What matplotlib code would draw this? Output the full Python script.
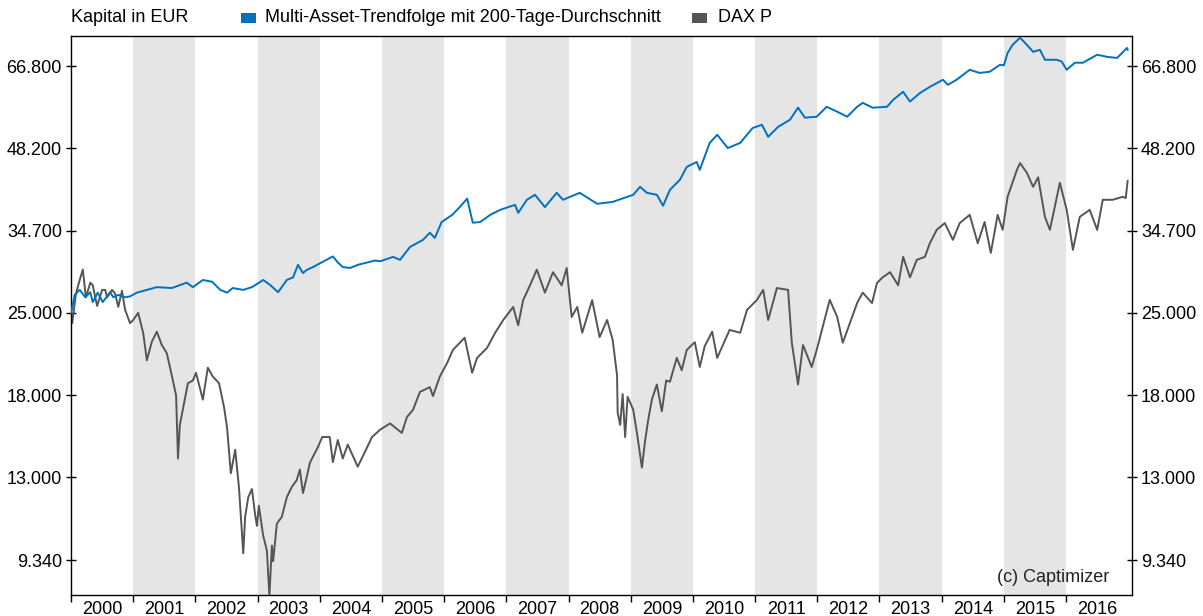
import matplotlib
matplotlib.use("Agg")
import matplotlib.pyplot as plt
from matplotlib.ticker import FixedLocator, FuncFormatter, NullLocator
from matplotlib.patches import Rectangle

dax_years = [2000.00, 2000.02, 2000.08, 2000.14, 2000.19, 2000.24, 2000.31, 2000.35, 2000.42, 2000.50,
             2000.55, 2000.58, 2000.66, 2000.71, 2000.76, 2000.82, 2000.87, 2000.95, 2001.00, 2001.08,
             2001.16, 2001.22, 2001.30, 2001.38, 2001.46, 2001.54, 2001.62, 2001.69, 2001.72, 2001.75,
             2001.82, 2001.88, 2001.96, 2002.01, 2002.12, 2002.20, 2002.28, 2002.38, 2002.46, 2002.51,
             2002.57, 2002.64, 2002.70, 2002.77, 2002.80, 2002.85, 2002.91, 2002.96, 2002.99, 2003.02,
             2003.09, 2003.15, 2003.19, 2003.23, 2003.25, 2003.31, 2003.39, 2003.47, 2003.55, 2003.63,
             2003.68, 2003.73, 2003.79, 2003.84, 2003.89, 2003.97, 2004.04, 2004.16, 2004.21, 2004.29,
             2004.37, 2004.45, 2004.61, 2004.73, 2004.84, 2004.97, 2005.13, 2005.32, 2005.40, 2005.50,
             2005.61, 2005.77, 2005.82, 2005.93, 2006.05, 2006.14, 2006.33, 2006.45, 2006.53, 2006.69,
             2006.82, 2006.95, 2007.11, 2007.19, 2007.27, 2007.38, 2007.49, 2007.62, 2007.75, 2007.89,
             2007.97, 2008.05, 2008.14, 2008.22, 2008.38, 2008.50, 2008.62, 2008.71, 2008.78, 2008.79,
             2008.83, 2008.87, 2008.91, 2008.95, 2009.04, 2009.10, 2009.18, 2009.23, 2009.28, 2009.34,
             2009.42, 2009.50, 2009.57, 2009.63, 2009.74, 2009.82, 2009.90, 2010.03, 2010.11, 2010.19,
             2010.31, 2010.39, 2010.59, 2010.76, 2010.87, 2011.03, 2011.13, 2011.21, 2011.35, 2011.53,
             2011.59, 2011.69, 2011.77, 2011.91, 2011.99, 2012.20, 2012.32, 2012.41, 2012.64, 2012.73,
             2012.88, 2012.96, 2013.05, 2013.17, 2013.30, 2013.38, 2013.49, 2013.60, 2013.73, 2013.81,
             2013.92, 2014.05, 2014.18, 2014.29, 2014.45, 2014.58, 2014.69, 2014.79, 2014.90, 2014.98,
             2015.06, 2015.21, 2015.26, 2015.37, 2015.47, 2015.55, 2015.66, 2015.74, 2015.90, 2016.01,
             2016.11, 2016.22, 2016.38, 2016.50, 2016.59, 2016.75, 2016.91, 2016.96, 2016.99]
dax_values = [25000, 24000, 27000, 28500, 29700, 26600, 28200, 27900, 25700, 27400,
              27400, 26600, 27400, 27000, 25600, 27300, 25300, 24000, 24300, 25000,
              23100, 20700, 22300, 23200, 22000, 21300, 19500, 18000, 14000, 16000,
              17500, 18900, 19100, 19700, 17700, 20100, 19400, 18900, 17200, 15800,
              13200, 14500, 12500, 9600, 11100, 12000, 12400, 11200, 10700, 11600,
              10300, 9700, 8100, 9900, 9300, 10800, 11100, 12000, 12500, 12850,
              13400, 12200, 13000, 13750, 14100, 14650, 15250, 15250, 13800, 15070,
              14000, 14800, 13550, 14400, 15250, 15700, 16100, 15500, 16500, 17000,
              18250, 18600, 17950, 19400, 20500, 21570, 22650, 19700, 20900, 21750,
              23100, 24300, 25600, 23800, 26300, 27900, 29700, 27100, 29400, 27900,
              29900, 24600, 25600, 23100, 26300, 22700, 24300, 22450, 19500, 16800,
              16000, 18100, 15250, 17900, 17000, 15500, 13500, 15000, 16300, 17700,
              18800, 16900, 19100, 19000, 20900, 19900, 21570, 22250, 20160, 21900,
              23200, 20900, 23360, 23100, 25300, 26330, 27400, 24300, 27600, 27400,
              22200, 18800, 22000, 20160, 21570, 26330, 24600, 22200, 26000, 27100,
              26000, 28170, 28800, 29400, 27900, 31250, 28800, 30880, 31250, 33000,
              34800, 35750, 33440, 35750, 36940, 33000, 35900, 31750, 36940, 34800,
              39700, 44190, 45400, 43660, 41300, 42900, 36640, 34800, 41960, 37680,
              32130, 36640, 37680, 34800, 39220, 39220, 39700, 39500, 42300]

mat_years = [2000.00, 2000.06, 2000.14, 2000.23, 2000.31, 2000.35, 2000.43, 2000.51, 2000.63, 2000.68,
             2000.76, 2000.87, 2000.95, 2001.06, 2001.22, 2001.38, 2001.62, 2001.86, 2001.96, 2002.12,
             2002.27, 2002.40, 2002.51, 2002.60, 2002.77, 2002.91, 2003.09, 2003.20, 2003.33, 2003.47,
             2003.57, 2003.65, 2003.73, 2003.79, 2003.89, 2004.05, 2004.21, 2004.29, 2004.37, 2004.49,
             2004.61, 2004.89, 2004.97, 2005.18, 2005.29, 2005.45, 2005.66, 2005.77, 2005.85, 2005.96,
             2006.13, 2006.25, 2006.37, 2006.46, 2006.58, 2006.74, 2006.90, 2007.14, 2007.19, 2007.33,
             2007.46, 2007.62, 2007.81, 2007.91, 2008.18, 2008.46, 2008.71, 2009.04, 2009.15, 2009.26,
             2009.42, 2009.52, 2009.63, 2009.79, 2009.90, 2010.06, 2010.11, 2010.27, 2010.39, 2010.56,
             2010.76, 2010.96, 2011.11, 2011.21, 2011.37, 2011.56, 2011.69, 2011.80, 2011.99, 2012.15,
             2012.32, 2012.48, 2012.64, 2012.73, 2012.89, 2013.12, 2013.22, 2013.38, 2013.49, 2013.65,
             2013.81, 2014.02, 2014.10, 2014.24, 2014.45, 2014.61, 2014.77, 2014.94, 2015.00, 2015.06,
             2015.14, 2015.26, 2015.37, 2015.47, 2015.58, 2015.66, 2015.85, 2015.93, 2016.01, 2016.14,
             2016.27, 2016.50, 2016.66, 2016.82, 2016.98, 2016.99]
mat_values = [25000, 26860, 27400, 26600, 27150, 26100, 27100, 26100, 27150, 26600,
              26860, 26600, 26700, 27100, 27400, 27700, 27600, 28200, 27700, 28500,
              28300, 27400, 27100, 27600, 27400, 27700, 28500, 27950, 27150, 28500,
              28800, 30270, 29300, 29670, 30000, 30650, 31300, 30570, 30000, 29900,
              30270, 30800, 30700, 31250, 30880, 32500, 33440, 34400, 33700, 35900,
              36940, 38100, 39400, 35800, 35900, 36940, 37680, 38440, 37230, 39220,
              40010, 38100, 40330, 39220, 40330, 38600, 38900, 40010, 41300, 40330,
              40010, 38300, 40810, 42470, 44700, 45600, 44190, 49200, 50810, 48200,
              49200, 52200, 52870, 50400, 52450, 53940, 56600, 54400, 54600, 56800,
              55700, 54600, 56800, 57700, 56600, 56800, 58410, 60300, 58000, 60000,
              61500, 63260, 62010, 63260, 65820, 65000, 65300, 67150, 67000, 70400,
              72700, 74800, 72700, 70700, 71280, 68500, 68500, 68000, 65820, 67700,
              67700, 69880, 69300, 69000, 71800, 71280]

y_ticks = [9340, 13000, 18000, 25000, 34700, 48200, 66800]
years = list(range(2000, 2017))

BLUE = "#0070c0"
GREY = "#555555"
FS = 13

plt.rcParams['font.family'] = ['Liberation Sans', 'DejaVu Sans']
plt.rcParams['font.size'] = FS

W, H = 1203, 616
fig = plt.figure(figsize=(W / 100, H / 100), dpi=100)
ax = fig.add_axes([71 / W, 21 / H, (1132 - 71) / W, (595 - 36) / H])

# jedes zweite Jahr grau hinterlegt
for y in years:
    if y % 2 == 1:
        ax.axvspan(y, y + 1, color="#e5e5e5", lw=0, zorder=0)

ax.plot(dax_years, dax_values, color=GREY, lw=1.4, zorder=2)
ax.plot(mat_years, mat_values, color=BLUE, lw=1.4, zorder=3)

ax.set_yscale("log")
ax.set_ylim(8130, 75300)
ax.set_xlim(2000, 2017.06)

ax.yaxis.set_major_locator(FixedLocator(y_ticks))
ax.yaxis.set_minor_locator(NullLocator())
ax.yaxis.set_major_formatter(FuncFormatter(lambda v, p: f"{v:,.0f}".replace(",", ".")))
ax.tick_params(axis="y", which="major", direction="inout", length=7, width=1,
               left=True, right=True, labelleft=True, labelright=True, labelsize=FS, pad=3)

ax.set_xticks(years)
ax.set_xticks([y + 0.5 for y in years], minor=True)
ax.set_xticklabels([str(y) for y in years], minor=True)
ax.tick_params(axis="x", which="major", direction="out", length=5, width=1, labelbottom=False)
ax.tick_params(axis="x", which="minor", length=0, labelsize=FS, pad=4)

for s in ax.spines.values():
    s.set_linewidth(1.0)
    s.set_color("black")

ax.text(0.979, 0.031, "(c) Captimizer", transform=ax.transAxes, ha="right", va="center",
        fontsize=FS, color="#222222")

# Kopfzeile / Legende
ytop = 1 - 18 / H
fig.text(71 / W, ytop, "Kapital in EUR", ha="left", va="center", fontsize=FS)
fig.patches.append(Rectangle((241 / W, 1 - 23 / H), 15 / W, 10 / H, transform=fig.transFigure,
                             facecolor=BLUE, edgecolor="none"))
fig.text(265 / W, ytop, "Multi-Asset-Trendfolge mit 200-Tage-Durchschnitt", ha="left", va="center", fontsize=FS)
fig.patches.append(Rectangle((692 / W, 1 - 23 / H), 15 / W, 10 / H, transform=fig.transFigure,
                             facecolor=GREY, edgecolor="none"))
fig.text(718 / W, ytop, "DAX P", ha="left", va="center", fontsize=FS)

fig.savefig("out.png", dpi=100)
